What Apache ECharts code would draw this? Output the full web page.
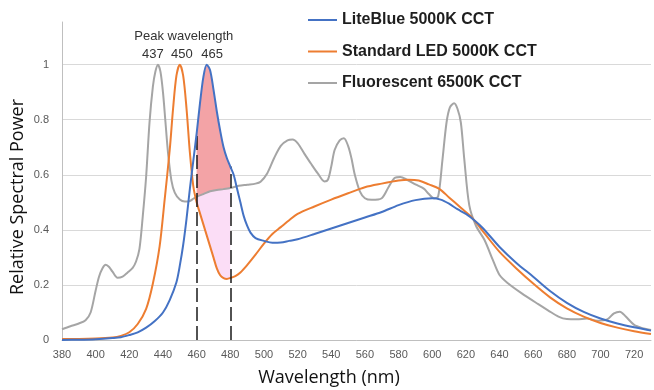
<!DOCTYPE html>
<html><head><meta charset="utf-8">
<script src="https://cdn.jsdelivr.net/npm/echarts@6/dist/echarts.min.js"></script>
<style>html,body{margin:0;padding:0;background:#fff}#c{width:654px;height:390px}</style>
</head><body><div id="c"></div>
<script>
const seriesNames = ['LiteBlue 5000K CCT', 'Standard LED 5000K CCT', 'Fluorescent 6500K CCT'];
const seriesColors = ['#4472C4', '#ED7D31', '#A5A5A5'];

const blueNm = [380,390,400,410,415,420,425,430,435,440,444,448,450,452,454,456,458,460,462,464,466,468,470,472,474,476,478,480,482,484,486,488,490,492,495,500,505,510,515,520,530,540,550,560,570,580,590,600,605,610,615,620,625,630,640,650,660,670,680,690,700,710,720,730];
const blueVal = [0.0,0.001,0.003,0.007,0.01,0.018,0.028,0.045,0.068,0.1,0.145,0.21,0.27,0.345,0.44,0.55,0.65,0.75,0.86,0.955,1.0,0.98,0.91,0.83,0.76,0.7,0.66,0.63,0.6,0.55,0.5,0.45,0.415,0.39,0.37,0.36,0.353,0.354,0.36,0.366,0.385,0.405,0.425,0.445,0.465,0.49,0.508,0.515,0.51,0.495,0.475,0.458,0.435,0.407,0.338,0.28,0.23,0.178,0.135,0.102,0.078,0.06,0.046,0.034];

const orangeNm = [380,390,400,410,415,420,425,430,434,438,441,444,446,448,450,452,454,456,458,460,462,464,466,468,470,472,474,476,478,480,483,486,490,495,500,505,510,515,520,530,540,550,560,570,580,586,592,598,604,610,617,624,631,640,650,660,670,680,690,700,710,720,730];
const orangeVal = [0.004,0.004,0.005,0.009,0.015,0.028,0.058,0.113,0.205,0.34,0.51,0.69,0.84,0.96,1.0,0.96,0.84,0.68,0.56,0.5,0.46,0.42,0.38,0.34,0.3,0.26,0.235,0.225,0.222,0.225,0.232,0.245,0.272,0.31,0.35,0.385,0.41,0.435,0.458,0.485,0.51,0.533,0.555,0.568,0.579,0.582,0.579,0.565,0.55,0.518,0.48,0.442,0.388,0.32,0.26,0.205,0.155,0.115,0.085,0.062,0.045,0.032,0.022];

const grayNm = [380,385,390,394,397,400,402,404,406,408,410,413,416,419,422,424,426,428,430,432,434,435.5,437,438.5,440,441.5,443,445,447,450,453,456,458,460,464,468,472,476,480,485,490,495,498,502,506,510,514,517,520,524,528,532,536,538,540,542,545,547.5,550,552,554,557,560,564,570,574,578,581,585,590,595,598,601,603.5,606,608.5,610.5,613,615,617,619,622,626,631,636,640,645,653,663,669,675,680,686,692,698,704,708,711.5,715,720,725,730];
const grayVal = [0.039,0.05,0.06,0.072,0.1,0.18,0.23,0.26,0.273,0.265,0.248,0.226,0.23,0.245,0.262,0.285,0.33,0.45,0.594,0.79,0.92,0.975,1.0,0.975,0.9,0.79,0.68,0.58,0.535,0.51,0.503,0.505,0.513,0.52,0.53,0.54,0.545,0.548,0.552,0.56,0.564,0.568,0.575,0.606,0.66,0.705,0.725,0.728,0.715,0.677,0.64,0.605,0.576,0.582,0.63,0.69,0.725,0.733,0.705,0.66,0.6,0.54,0.515,0.509,0.515,0.555,0.59,0.592,0.582,0.565,0.55,0.53,0.515,0.521,0.65,0.79,0.845,0.86,0.84,0.79,0.66,0.49,0.415,0.364,0.291,0.236,0.206,0.17,0.13,0.107,0.085,0.076,0.075,0.078,0.07,0.075,0.097,0.103,0.085,0.055,0.043,0.036];

const peakNm = [437, 450, 465];
const peakLabels = ['437', '450', '465'];
const peakTitle = 'Peak wavelength';
const bandNm = [460, 480];
const xTitle = 'Wavelength (nm)';
const yTitle = 'Relative Spectral Power';

function zip(a, b) { return a.map((x, i) => [x, b[i]]); }
function pick(nm, val, lo, hi) { return zip(nm, val).filter(p => p[0] >= lo && p[0] <= hi); }
function valAt(nm, val, x) { return val[nm.indexOf(x)]; }

const fillPairs = [
  { upper: [blueNm, blueVal], lower: [grayNm, grayVal], color: '#F3A3A6' },
  { upper: [grayNm, grayVal], lower: [orangeNm, orangeVal], color: '#FBDDF6' }
];

const chart = echarts.init(document.getElementById('c'), null, { renderer: 'canvas' });

const lineSeries = [[blueNm, blueVal], [orangeNm, orangeVal], [grayNm, grayVal]].map((s, i) => ({
  name: seriesNames[i],
  type: 'line',
  data: zip(s[0], s[1]),
  symbol: 'none',
  smooth: 0.3,
  z: 5 - i,
  lineStyle: { width: 2, color: seriesColors[i] },
  itemStyle: { color: seriesColors[i] }
}));

lineSeries[0].markLine = {
  silent: true,
  symbol: 'none',
  label: { show: false },
  lineStyle: { color: '#1a1a1a', width: 1.5, type: [14, 5] },
  data: bandNm.map(x => [{ coord: [x, 0] }, { coord: [x, valAt(blueNm, blueVal, x)] }])
};

const fillSeries = fillPairs.map(f => ({
  type: 'custom',
  silent: true,
  z: 1,
  data: [[bandNm[0], 0]],
  encode: { x: 0, y: 1 },
  renderItem: function (params, api) {
    const up = pick(f.upper[0], f.upper[1], bandNm[0], bandNm[1]).map(p => api.coord(p));
    const lo = pick(f.lower[0], f.lower[1], bandNm[0], bandNm[1]).reverse().map(p => api.coord(p));
    return { type: 'polygon', shape: { points: up.concat(lo) }, style: { fill: f.color } };
  }
}));

const labelFont = 'Liberation Sans, Arial, sans-serif';

chart.setOption({
  animation: false,
  backgroundColor: '#ffffff',
  grid: { left: 62, right: 0, top: 22, bottom: 50, containLabel: false },
  legend: {
    data: seriesNames.map((n, i) => ({ name: n, icon: 'rect', itemStyle: { color: seriesColors[i] } })),
    orient: 'vertical',
    left: 303,
    top: 7,
    itemWidth: 29,
    itemHeight: 2,
    itemGap: 15.5,
    textStyle: { fontFamily: labelFont, fontSize: 16, fontWeight: 'bold', color: '#1e1e1e', lineHeight: 16 }
  },
  xAxis: {
    type: 'value',
    min: 380, max: 730, interval: 20,
    axisLine: { show: true, lineStyle: { color: '#BFBFBF', width: 1 } },
    axisTick: { show: false },
    splitLine: { show: false },
    axisLabel: {
      color: '#595959', fontSize: 11, fontFamily: labelFont, margin: 9,
      formatter: v => (v > 720 ? '' : String(v))
    }
  },
  yAxis: {
    type: 'value',
    min: 0, max: 1.155, interval: 0.2,
    axisLine: { show: true, lineStyle: { color: '#BFBFBF', width: 1 } },
    axisTick: { show: false },
    splitLine: { show: true, showMaxLine: false, lineStyle: { color: '#D9D9D9', width: 1 } },
    axisLabel: {
      color: '#595959', fontSize: 11, fontFamily: labelFont, margin: 13,
      formatter: v => (v > 1.0001 ? '' : String(Math.round(v * 10) / 10))
    }
  },
  series: fillSeries.concat(lineSeries)
});

const peakDx = [-5, 2, 7];
const graphics = [];
peakNm.forEach((nm, i) => {
  const p = chart.convertToPixel({ gridIndex: 0 }, [nm, 1]);
  graphics.push({
    type: 'text', x: p[0] + peakDx[i], y: p[1] - 10,
    style: { text: peakLabels[i], fill: '#333333', font: '13px ' + labelFont, align: 'center', verticalAlign: 'middle' }
  });
});
const pt = chart.convertToPixel({ gridIndex: 0 }, [peakNm[1], 1]);
graphics.push({
  type: 'text', x: pt[0] + 4, y: pt[1] - 28,
  style: { text: peakTitle, fill: '#333333', font: '13px ' + labelFont, align: 'center', verticalAlign: 'middle' }
});
graphics.push({
  type: 'text', x: 329, y: 378,
  style: { text: xTitle, fill: '#111111', font: '18px "Open Sans", sans-serif', align: 'center', verticalAlign: 'middle' }
});
graphics.push({
  type: 'text', x: 18, y: 197, rotation: Math.PI / 2,
  style: { text: yTitle, fill: '#111111', font: '18px "Open Sans", sans-serif', align: 'center', verticalAlign: 'middle' }
});
chart.setOption({ graphic: graphics });
</script>
</body></html>
